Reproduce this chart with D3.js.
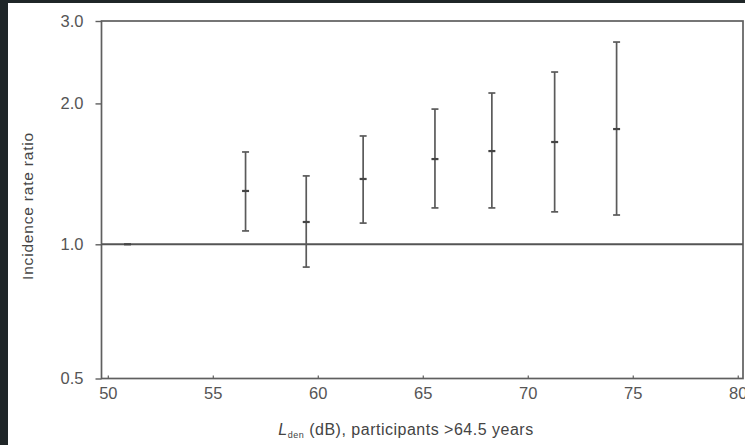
<!DOCTYPE html>
<html><head><meta charset="utf-8">
<script src="https://cdn.jsdelivr.net/npm/d3@7"></script>
<style>
html,body{margin:0;padding:0;background:#1f2628;}
svg{display:block;}
</style></head>
<body>
<svg id="c" width="745" height="445"></svg>
<script>
// Data
const lden = [50.94, 56.56, 59.45, 62.16, 65.58, 68.29, 71.28, 74.23];
const irr  = [1.0, 1.30, 1.116, 1.379, 1.521, 1.582, 1.654, 1.763];
const lower = [null, 1.068, 0.889, 1.11, 1.196, 1.196, 1.173, 1.155];
const upper = [null, 1.575, 1.40, 1.704, 1.945, 2.105, 2.334, 2.705];
const xTicks = [50, 55, 60, 65, 70, 75, 80];
const yTicks = [0.5, 1.0, 2.0, 3.0];
const refValue = 1.0;

const svg = d3.select("#c");
svg.append("rect").attr("x", 8).attr("y", 3).attr("width", 737).attr("height", 442).attr("fill", "#fff");

const L = 101.5, R = 743, T = 21, B = 378.5;
const x = d3.scaleLinear().domain([49.7, 80.25]).range([L, R]);
const y = d3.scaleLog().domain([0.5, 1, 3]).range([B, 244.3, T]);

const ink = "#5f5f5f";
const font = "'Liberation Sans', Arial, sans-serif";

// frame
svg.append("rect").attr("x", L).attr("y", T).attr("width", R - L).attr("height", B - T)
  .attr("fill", "none").attr("stroke", ink).attr("stroke-width", 1.7);

// y axis
const yAxis = d3.axisLeft(y).tickValues(yTicks).tickFormat(d3.format(".1f")).tickSize(6).tickPadding(12);
const gy = svg.append("g").attr("transform", `translate(${L},0)`).call(yAxis);
gy.select(".domain").remove();
gy.selectAll("line").attr("stroke", ink).attr("stroke-width", 1.4);
gy.selectAll("text").attr("font-family", font).attr("font-size", 16.5).attr("fill", "#555");

// x axis
const xAxis = d3.axisBottom(x).tickValues(xTicks).tickFormat(d3.format("d")).tickSize(-3).tickPadding(9);
const gx = svg.append("g").attr("transform", `translate(0,${B})`).call(xAxis);
gx.select(".domain").remove();
gx.selectAll("line").attr("stroke", ink).attr("stroke-width", 1.2);
gx.selectAll("text").attr("font-family", font).attr("font-size", 16.5).attr("fill", "#555");

// reference line
svg.append("line").attr("x1", L).attr("x2", R).attr("y1", y(refValue)).attr("y2", y(refValue))
  .attr("stroke", "#555").attr("stroke-width", 2);

// error bars
const data = lden.map((v, i) => ({x: v, m: irr[i], lo: lower[i], hi: upper[i]}));
const g = svg.append("g");
data.forEach(d => {
  if (d.lo != null) {
    g.append("line").attr("x1", x(d.x)).attr("x2", x(d.x)).attr("y1", y(d.lo)).attr("y2", y(d.hi))
      .attr("stroke", "#5a5a5a").attr("stroke-width", 1.7);
    [d.lo, d.hi].forEach(v => {
      g.append("line").attr("x1", x(d.x) - 3.5).attr("x2", x(d.x) + 3.5).attr("y1", y(v)).attr("y2", y(v))
        .attr("stroke", "#5a5a5a").attr("stroke-width", 1.7);
    });
  }
  g.append("line").attr("x1", x(d.x) - 3.5).attr("x2", x(d.x) + 3.5).attr("y1", y(d.m)).attr("y2", y(d.m))
    .attr("stroke", "#444").attr("stroke-width", 2.2);
});

// y label
svg.append("text").attr("transform", "translate(33,206) rotate(-90)").attr("text-anchor", "middle")
  .attr("font-family", font).attr("font-size", 15.5).attr("letter-spacing", 0.8).attr("fill", "#444").text("Incidence rate ratio");

// x label
const xl = svg.append("text").attr("x", 406).attr("y", 435).attr("text-anchor", "middle")
  .attr("font-family", font).attr("font-size", 16).attr("letter-spacing", 0.5).attr("fill", "#444");
xl.append("tspan").attr("font-style", "italic").text("L");
xl.append("tspan").attr("font-size", 9).attr("dy", 3).text("den");
xl.append("tspan").attr("dy", -3).text(" (dB), participants >64.5 years");
</script>
</body></html>
